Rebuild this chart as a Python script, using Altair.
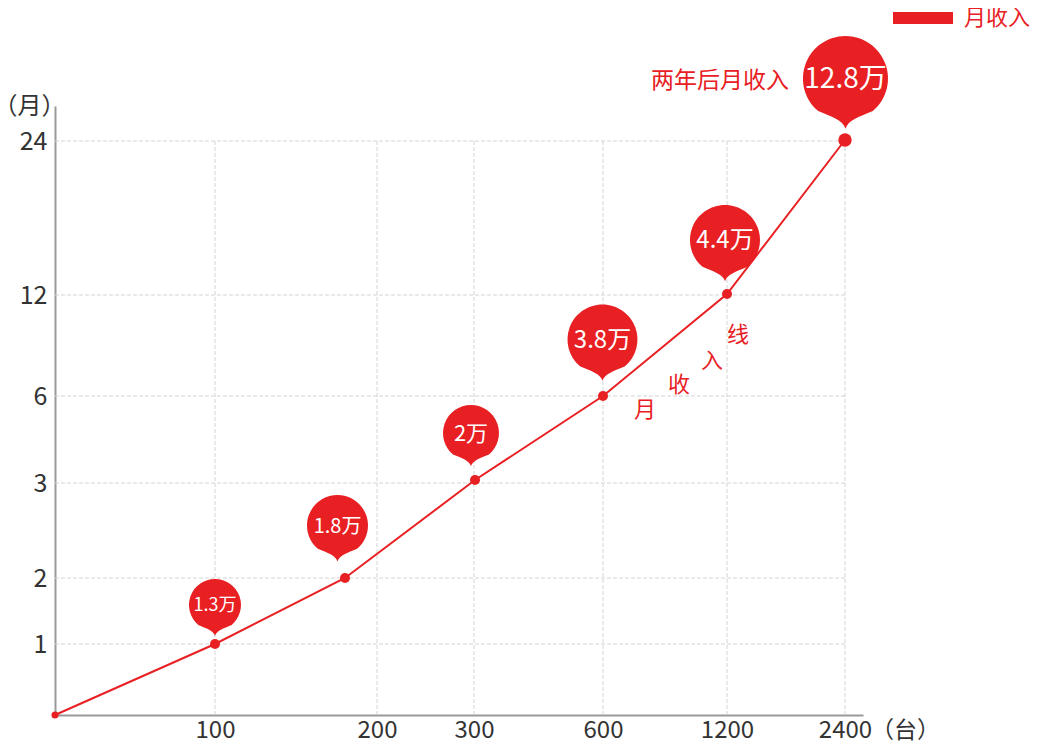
import json
import altair as alt
import pandas as pd

FONT = "Noto Sans CJK SC"
RED = "#E82023"
GRID = "#d4d4d4"
TXT = "#333333"

# Axis (non-uniform: positions in axis units along each axis)
x_tick_pos = [1.60, 3.22, 4.19, 5.48, 6.72, 7.90]
x_tick_labels = ["100", "200", "300", "600", "1200", "2400"]
y_tick_pos = [0.71, 1.37, 2.32, 3.19, 4.20, 5.74]
y_tick_labels = ["1", "2", "3", "6", "12", "24"]

# Line series
line_x = [0.0, 1.60, 2.90, 4.20, 5.48, 6.72, 7.90]
line_y = [0.0, 0.71, 1.37, 2.35, 3.19, 4.21, 5.75]
point_size = [50, 100, 100, 100, 100, 100, 180]

# Pin markers
pin_labels = ["1.3万", "1.8万", "2万", "3.8万", "4.4万", "12.8万"]
pin_x = [1.60, 2.825, 4.16, 5.475, 6.70, 7.905]
pin_y = [1.10, 1.895, 2.82, 3.755, 4.75, 6.365]
pin_radius = [26, 30.5, 28, 35, 35, 42.5]
pin_font = [18, 20, 22, 24, 24, 28]

# Annotations
note_text = ["两年后月收入"]
note_x = [6.65]
note_y = [6.34]
diag_chars = ["月", "收", "入", "线"]
diag_x = [5.90, 6.24, 6.57, 6.83]
diag_y = [3.05, 3.30, 3.54, 3.80]

series_name = "月收入"

df_line = pd.DataFrame({"x": line_x, "y": line_y, "s": point_size, "series": series_name})
df_pin = pd.DataFrame({"x": pin_x, "y": pin_y, "r": pin_radius, "f": pin_font, "label": pin_labels})
df_xt = pd.DataFrame({"pos": x_tick_pos})
df_yt = pd.DataFrame({"pos": y_tick_pos})
df_note = pd.DataFrame({"x": note_x, "y": note_y, "t": note_text})
df_diag = pd.DataFrame({"x": diag_x, "y": diag_y, "t": diag_chars})

x_expr = f"{json.dumps(x_tick_labels)}[indexof({json.dumps(x_tick_pos)}, datum.value)]"
y_expr = f"{json.dumps(y_tick_labels)}[indexof({json.dumps(y_tick_pos)}, datum.value)]"

xscale = alt.Scale(domain=[0, 8.08], nice=False, zero=False)
yscale = alt.Scale(domain=[0, 6.09], nice=False, zero=False)

xaxis = alt.Axis(values=x_tick_pos, labelExpr=x_expr, grid=False, ticks=False,
                 domainColor="#999999", domainWidth=2, labelFont=FONT, labelFontSize=24,
                 labelColor=TXT, labelPadding=3, labelFlush=False, labelOverlap=False,
                 title="（台）", titleFont=FONT, titleFontSize=23, titleFontWeight="normal",
                 titleColor=TXT, titleAngle=0, titleX=850, titleY=15, titleAlign="center",
                 titleBaseline="middle")
yaxis = alt.Axis(values=y_tick_pos, labelExpr=y_expr, grid=False, ticks=False,
                 domainColor="#999999", domainWidth=2, labelFont=FONT, labelFontSize=25,
                 labelColor=TXT, labelPadding=8, labelFlush=False, labelOverlap=False,
                 title="（月）", titleFont=FONT, titleFontSize=24, titleFontWeight="normal",
                 titleColor=TXT, titleAngle=0, titleX=-26, titleY=0, titleAlign="center",
                 titleBaseline="middle")


def X(field=None, datum=None):
    if datum is not None:
        return alt.X(datum=datum, type="quantitative", scale=xscale, axis=xaxis)
    return alt.X(field, type="quantitative", scale=xscale, axis=xaxis)


def Y(field=None, datum=None):
    if datum is not None:
        return alt.Y(datum=datum, type="quantitative", scale=yscale, axis=yaxis)
    return alt.Y(field, type="quantitative", scale=yscale, axis=yaxis)


vgrid = alt.Chart(df_xt).mark_rule(color=GRID, strokeWidth=1, strokeDash=[4, 2]).encode(
    x=X("pos"), y=Y(datum=0), y2=alt.Y2(datum=y_tick_pos[-1]))
hgrid = alt.Chart(df_yt).mark_rule(color=GRID, strokeWidth=1, strokeDash=[4, 2]).encode(
    y=Y("pos"), x=X(datum=0), x2=alt.X2(datum=x_tick_pos[-1]))

line = alt.Chart(df_line).mark_line(strokeWidth=2).encode(
    x=X("x"), y=Y("y"),
    color=alt.Color("series:N", scale=alt.Scale(domain=[series_name], range=[RED]),
                    legend=alt.Legend(orient="none", legendX=832, legendY=-94, title=None,
                                      symbolType="stroke", symbolSize=3600,
                                      symbolStrokeWidth=12, labelFont=FONT,
                                      labelFontSize=22, labelColor=RED, labelOffset=5,
                                      padding=0, clipHeight=12)))

points = alt.Chart(df_line).mark_circle(color=RED, opacity=1).encode(
    x=X("x"), y=Y("y"), size=alt.Size("s:Q", scale=None, legend=None))

PIN = ("M0,1.18 C-0.06,0.98 -0.33,0.9 -0.643,0.766 "
       "A1,1 0 1 1 0.643,0.766 C0.33,0.9 0.06,0.98 0,1.18 Z")

pins = alt.Chart(df_pin).transform_calculate(area="4*datum.r*datum.r").mark_point(
    shape=PIN, filled=True, fill=RED, strokeWidth=0, opacity=1).encode(
    x=X("x"), y=Y("y"), size=alt.Size("area:Q", scale=None, legend=None))

pin_text = alt.Chart(df_pin).mark_text(color="white", font=FONT, align="center",
                                       baseline="middle", dy=1).encode(
    x=X("x"), y=Y("y"), text="label:N", size=alt.Size("f:Q", scale=None, legend=None))

note = alt.Chart(df_note).mark_text(color=RED, font=FONT, fontSize=23, align="center",
                                    baseline="middle").encode(
    x=X("x"), y=Y("y"), text="t:N")

diag = alt.Chart(df_diag).mark_text(color=RED, font=FONT, fontSize=22, align="center",
                                    baseline="middle").encode(
    x=X("x"), y=Y("y"), text="t:N")

chart = alt.layer(vgrid, hgrid, line, points, pins, pin_text, note, diag).properties(
    width=808, height=609,
    autosize=alt.AutoSizeParams(type="none"),
    padding={"left": 47, "top": 98, "right": 170, "bottom": 26},
).configure(font=FONT).configure_view(stroke=None)

chart.save("out.html", embed_options={"renderer": "svg", "actions": False})
